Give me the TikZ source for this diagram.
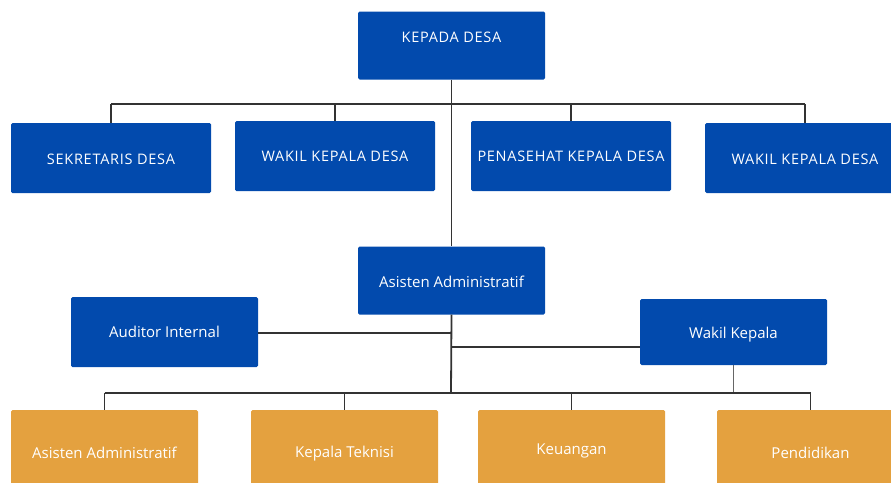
\documentclass[tikz,border=0pt]{standalone}
\usepackage{fontspec}
\setmainfont{Open Sans}
\usetikzlibrary{positioning}

\definecolor{desablue}{RGB}{2,74,173}
\definecolor{desaorange}{RGB}{228,161,63}

\tikzset{
  bluebox/.style={fill=desablue, rounded corners=1.5pt, minimum width=187pt, minimum height=68pt, inner sep=0pt},
  widebox/.style={bluebox, minimum width=200pt, minimum height=70pt},
  orangebox/.style={bluebox, fill=desaorange, minimum height=80pt},
  lab/.style={text=white, font=\fontsize{15}{17}\selectfont},
  caps/.style={lab, font=\fontsize{14.5}{17}\selectfont\addfontfeature{LetterSpace=5}},
  link/.style={draw=black!80, line width=1.8pt},
  thinlink/.style={draw=black!60, line width=0.6pt}
}

\begin{document}
\begin{tikzpicture}[x=1pt,y=-1pt]
      \useasboundingbox (0,0) rectangle (891,482);
      % top
      \node[bluebox, label={[caps,yshift=8]center:KEPADA DESA}] (kades) at (451.5,45.5) {};
      % second row
      \node[widebox, label={[caps,yshift=-1]center:SEKRETARIS DESA}] (sekdes) at (111,158) {};
      \node[widebox, label={[caps]center:WAKIL KEPALA DESA}] (wakil1) at (335,156) {};
      \node[widebox, label={[caps]center:PENASEHAT KEPALA DESA}] (penasehat) at (571,156) {};
      \node[widebox, label={[caps,yshift=-1]center:WAKIL KEPALA DESA}] (wakil2) at (805,158) {};
      % middle
      \node[bluebox, label={[lab,yshift=-1]center:Asisten Administratif}] (asisten) at (451.5,280.5) {};
      \node[bluebox, minimum height=70pt, label={[lab]center:Auditor Internal}] (auditor) at (164.5,332) {};
      \node[bluebox, minimum height=66pt, label={[lab,yshift=-3]center:Wakil Kepala}] (wakilk) at (733.5,332) {};
      % bottom row
      \node[orangebox, label={[lab,yshift=-3]center:Asisten Administratif}] (asisten2) at (104.5,450) {};
      \node[orangebox, label={[lab,yshift=-4]center:Kepala Teknisi}] (teknisi) at (344.5,450) {};
      \node[orangebox, label={[lab,yshift=-1]center:Keuangan}] (keuangan) at (571.5,450) {};
      \node[orangebox, label={[lab,yshift=-3]center:Pendidikan}] (pendidikan) at (810.5,450) {};

      % connectors
      \coordinate (bar1) at (451,104);
      \coordinate (bar2) at (451,393);
      \draw[link, line width=1.2pt] (kades.south) -- (asisten.north);
      \draw[link] (sekdes.north |- bar1) -- (wakil2.north |- bar1);
      \draw[link] (sekdes.north |- bar1) -- (sekdes.north);
      \draw[link] (wakil1.north |- bar1) -- (wakil1.north);
      \draw[link] (penasehat.north |- bar1) -- (penasehat.north);
      \draw[link] (wakil2.north |- bar1) -- (wakil2.north);
      \draw[link] (asisten.south) -- (bar2);
      \draw[link] (auditor.east |- 0,333) -- (asisten.south |- 0,333);
      \draw[link] (asisten.south |- 0,347) -- (wakilk.west |- 0,347);
      \draw[thinlink] (wakilk.south) -- (wakilk.south |- bar2);
      \draw[link] (asisten2.north |- bar2) -- (pendidikan.north |- bar2);
      \draw[link] (asisten2.north |- bar2) -- (asisten2.north);
      \draw[link] (teknisi.north |- bar2) -- (teknisi.north);
      \draw[link] (keuangan.north |- bar2) -- (keuangan.north);
      \draw[link] (pendidikan.north |- bar2) -- (pendidikan.north);
\end{tikzpicture}
\end{document}
